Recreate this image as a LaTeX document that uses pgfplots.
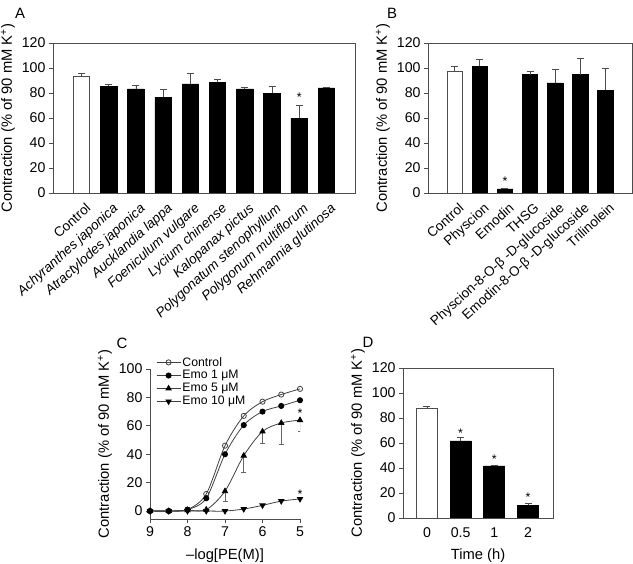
\documentclass[border=0pt]{standalone}
\usepackage{pgfplots}
\pgfplotsset{compat=1.18}
\usepackage{fontspec}
\setmainfont{Liberation Sans}
\begin{document}
\begin{tikzpicture}[x=1bp,y=1bp]
\useasboundingbox (0,0) rectangle (633,564);
\pgfplotsset{
  every axis/.append style={
    scale only axis,
    /pgf/number format/assume math mode=true,
    tick label style={font=\fontsize{14.2}{15}\selectfont},
    label style={font=\fontsize{14.8}{16}\selectfont},
    axis line style={black!70, line width=0.8pt},
    tick style={black!70, line width=0.8pt},
    tick align=outside,
    major tick length=4bp,
  },
  barw/.style={ybar, bar shift=0pt, fill=white, draw=black!70, line width=0.8pt,
    error bars/.cd, y dir=plus, y explicit,
    error bar style={black!70, line width=0.8pt},
    error mark options={rotate=90, mark size=3.5bp, black!70, line width=0.8pt}},
  barb/.style={ybar, bar shift=0pt, fill=black, draw=black, line width=0.8pt,
    error bars/.cd, y dir=plus, y explicit,
    error bar style={black!70, line width=0.8pt},
    error mark options={rotate=90, mark size=3.5bp, black!70, line width=0.8pt}},
  star/.style={draw=none, nodes near coords={*}, nodes near coords style={anchor=center, font=\fontsize{12.5}{12.5}\selectfont}},
  catlab/.style={x tick label style={rotate=42, anchor=north east, font=\fontsize{13.6}{14}\selectfont, inner sep=1bp, yshift=-5bp}},
}

% ---------------- Panel A ----------------
\begin{axis}[at={(53bp,371bp)}, anchor=south west, width=302bp, height=150bp,
  xmin=-1.05, xmax=10.05, ymin=0, ymax=120, ytick={0,20,...,120},
  xtick={0,...,9},
  xticklabels={Control, \textit{Achyranthes japonica}, \textit{Atractylodes japonica}, \textit{Aucklandia lappa}, \textit{Foeniculum vulgare}, \textit{Lycium chinense}, \textit{Kalopanax pictus}, \textit{Polygonatum stenophyllum}, \textit{Polygonum multiflorum}, \textit{Rehmannia glutinosa}},
  catlab,
  xtick style={draw=none},
  ytick pos=left,
  ylabel={Contraction (\% of 90 mM K\textsuperscript{+})},
  bar width=16.5bp,
]
\addplot[barw] coordinates {(0,93.3) +- (0,2.7)};
\addplot[barb] coordinates {
(1,85.3) +- (0,1.9)
(2,83.2) +- (0,2.9)
(3,76.5) +- (0,6.2)
(4,87.2) +- (0,8.5)
(5,88.5) +- (0,2.2)
(6,83.2) +- (0,1.1)
(7,79.7) +- (0,5.3)
(8,59.7) +- (0,10.2)
(9,84.0) +- (0,0.6)
};
\addplot[star] coordinates {(8,76.7)};
\end{axis}

% ---------------- Panel B ----------------
\begin{axis}[at={(428bp,371bp)}, anchor=south west, width=204bp, height=150bp,
  xmin=-1.07, xmax=7.07, ymin=0, ymax=120, ytick={0,20,...,120},
  xtick={0,...,6},
  xticklabels={Control, Physcion, Emodin, THSG, Physcion-8-O-β -D-glucoside, Emodin-8-O-β -D-glucoside, Trilinolein},
  catlab,
  xtick style={draw=none},
  ytick pos=left,
  ylabel={Contraction (\% of 90 mM K\textsuperscript{+})},
  bar width=15.7bp,
]
\addplot[barw] coordinates {(0,97.3) +- (0,4.0)};
\addplot[barb] coordinates {
(1,101.3) +- (0,5.4)
(2,3.2) +- (0,0.8)
(3,94.7) +- (0,2.3)
(4,88.0) +- (0,11.2)
(5,94.7) +- (0,12.8)
(6,82.1) +- (0,17.9)
};
\addplot[star] coordinates {(2,9.5)};
\end{axis}

% ---------------- Panel C ----------------
\begin{axis}[at={(150bp,45bp)}, anchor=south west, width=150bp, height=150bp,
  xmin=5, xmax=9, x dir=reverse, ymin=-5.6, ymax=100,
  axis lines*=left, axis line style={-},
  xtick={5,6,7,8,9}, ytick={0,20,...,100},
  xlabel={–log[PE(M)]}, xlabel style={yshift=-5.5bp},
  ylabel={Contraction (\% of 90 mM K\textsuperscript{+})},
  legend style={at={(0.04,1.09)}, anchor=north west, draw=none, fill=none,
    font=\fontsize{12.3}{13}\selectfont, row sep=0bp, inner sep=0pt,
    nodes={inner sep=1.5bp}},
  legend cell align=left,
  legend image code/.code={\draw[mark repeat=2,mark phase=2] plot coordinates {(0bp,0bp) (12bp,0bp) (24bp,0bp)};},
]
\addplot[smooth, black!75, line width=0.8pt, mark=o, mark size=2.6bp, mark options={fill=white, black!75}] coordinates {
(9,0) (8.5,0) (8,1) (7.5,12) (7,46) (6.5,67) (6,77) (5.5,82) (5,86)};
\addlegendentry{Control}
\addplot[smooth, black!75, line width=0.8pt, mark=*, mark size=2.6bp, mark options={fill=black, black}] coordinates {
(9,0) (8.5,0) (8,1) (7.5,9) (7,40) (6.5,60.5) (6,70) (5.5,74) (5,78)};
\addlegendentry{Emo 1 μM}
\addplot[smooth, black!75, line width=0.8pt, mark=triangle*, mark size=3bp, mark options={fill=black, black},
  error bars/.cd, y dir=minus, y explicit, error bar style={black!60, line width=0.7pt},
  error mark options={rotate=90, mark size=2.5bp, black!60}] coordinates {
(9,0) (8.5,0) (8,0.5) (7.5,1) (7,14) -= (0,7) (6.5,39) -= (0,12) (6,56) -= (0,8) (5.5,62) -= (0,15) (5,64) -= (0,8)};
\addlegendentry{Emo 5 μM}
\addplot[smooth, black!75, line width=0.8pt, mark=triangle*, mark size=3bp, mark options={fill=black, black, rotate=180}] coordinates {
(9,0) (8.5,0) (8,0) (7.5,0) (7,0) (6.5,1.4) (6,4) (5.5,7) (5,8.5)};
\addlegendentry{Emo 10 μM}
\addplot[star, forget plot] coordinates {(5,69) (5,12)};
\end{axis}

% ---------------- Panel D ----------------
\begin{axis}[at={(403bp,46bp)}, anchor=south west, width=150bp, height=150bp,
  xmin=-0.71, xmax=3.74, ymin=0, ymax=120, ytick={0,20,...,120},
  xtick={0,1,2,3}, xticklabels={0,0.5,1,2},
  x tick label style={yshift=-2bp},
  xtick style={draw=none},
  ytick pos=left,
  xlabel={Time (h)}, xlabel style={yshift=-4bp},
  ylabel={Contraction (\% of 90 mM K\textsuperscript{+})},
  bar width=21bp,
]
\addplot[barw] coordinates {(0,87.5) +- (0,2.1)};
\addplot[barb] coordinates {
(1,61.6) +- (0,2.7)
(2,41.6) +- (0,0.8)
(3,10.1) +- (0,1.4)
};
\addplot[star] coordinates {(1,68) (2,47) (3,16.7)};
\end{axis}

\node[font=\fontsize{15}{15}\selectfont] at (20,551) {A};
\node[font=\fontsize{15}{15}\selectfont] at (392,551) {B};
\node[font=\fontsize{15}{15}\selectfont] at (122,221) {C};
\node[font=\fontsize{15}{15}\selectfont] at (368,222) {D};
\end{tikzpicture}
\end{document}
